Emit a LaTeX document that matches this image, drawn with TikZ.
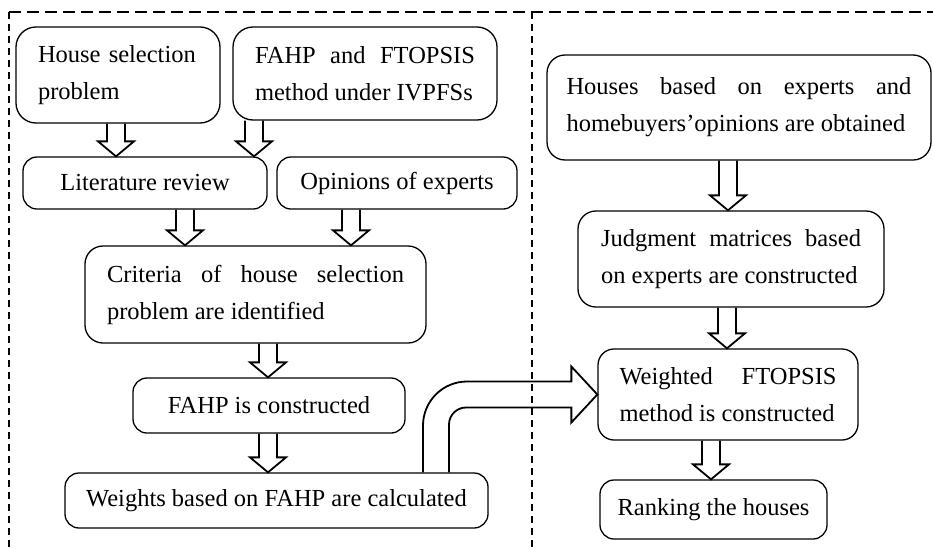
\documentclass[tikz,border=0pt]{standalone}
\usepackage{fontspec}
\setmainfont{Liberation Serif}
\usetikzlibrary{calc}

\newcommand{\boxfont}{\fontsize{24.5pt}{37pt}\selectfont\hyphenpenalty=10000\relax}

\begin{document}
\begin{tikzpicture}[x=1pt, y=-1pt,
    box/.style={draw, line width=1.3pt, rounded corners=14pt, font=\boxfont, inner ysep=3pt},
    blockarr/.style={draw, line width=1.8pt, line join=miter},
    zoneline/.style={line width=1.6pt}]
    \useasboundingbox (0,0) rectangle (933,549);

    % Dashed zones
    \draw[zoneline, dash pattern=on 12pt off 6pt] (9,12) -- (933,12);
    \draw[zoneline, dash pattern=on 7pt off 5pt] (9,12) -- (9,549);
    \draw[zoneline, dash pattern=on 7pt off 5pt] (532,12) -- (532,549);

    % Left part
    \node[box, rounded corners=20pt, minimum width=204pt, minimum height=96pt, text width=160pt, inner xsep=22pt, align=left] (hsp) at (118,75) {House selection problem};
    \node[box, rounded corners=20pt, minimum width=264pt, minimum height=93pt, text width=220pt, inner xsep=22pt, align=justify] (fahp) at (365,73.5) {FAHP and FTOPSIS method under IVPFSs};
    \node[box, minimum width=244pt, minimum height=52pt] (litrev) at (145,183) {Literature review};
    \node[box, minimum width=240pt, minimum height=52pt] (opin) at (397,183) {Opinions of experts};
    \node[box, rounded corners=18pt, minimum width=341pt, minimum height=97pt, text width=297pt, inner xsep=22pt, align=justify] (crit) at (255.5,294.5) {Criteria of house selection problem are identified};
    \node[box, minimum width=272pt, minimum height=55pt] (fahpc) at (269,405.5) {FAHP is constructed};
    \node[box, minimum width=423pt, minimum height=55pt] (wts) at (276.5,500.5) {Weights based on FAHP are calculated};

    % Right part
    \node[box, rounded corners=18pt, minimum width=384pt, minimum height=105pt, text width=345pt, inner xsep=19.5pt, align=justify] (houses) at (739,107.5) {Houses based on experts and homebuyers’opinions are obtained};
    \node[box, rounded corners=18pt, minimum width=306pt, minimum height=96pt, text width=260pt, inner xsep=23pt, align=justify] (judg) at (731,259) {Judgment matrices based on experts are constructed};
    \node[box, rounded corners=16pt, minimum width=260pt, minimum height=91pt, text width=217pt, inner xsep=21.5pt, align=justify] (wtop) at (728,394.5) {Weighted FTOPSIS method is constructed};
    \node[box, minimum width=227pt, minimum height=59pt] (rank) at (713.5,509.5) {Ranking the houses};

    % Hollow down arrows
    \foreach \xx/\src/\dst in {116/hsp/litrev, 254/fahp/litrev, 185/litrev/crit, 351/opin/crit,
        268/crit/fahpc, 268/fahpc/wts, 728/houses/judg, 727/judg/wtop, 711/wtop/rank} {
        \draw[blockarr] let \p1=(\xx,0), \p2=(\src.south), \p3=(\dst.north) in
            (\x1-9pt,\y2) -- (\x1-9pt,\y3+15pt) -- (\x1-18pt,\y3+15pt) -- (\x1,\y3)
            -- (\x1+18pt,\y3+15pt) -- (\x1+9pt,\y3+15pt) -- (\x1+9pt,\y2);
    }

    % Bent arrow across the zones
    \draw[blockarr] let \p1=(436,0), \p2=(wts.north), \p3=(wtop.west) in
        (\x1-13pt,\y2) [rounded corners=44pt] -- (\x1-13pt,\y3+13pt) [sharp corners]
        -- (\x3-26pt,\y3+13pt) -- (\x3-26pt,\y3+28pt) -- (\x3,\y3) -- (\x3-26pt,\y3-28pt)
        -- (\x3-26pt,\y3-13pt) [rounded corners=17pt] -- (\x1+13pt,\y3-13pt) [sharp corners]
        -- (\x1+13pt,\y2);
\end{tikzpicture}
\end{document}
